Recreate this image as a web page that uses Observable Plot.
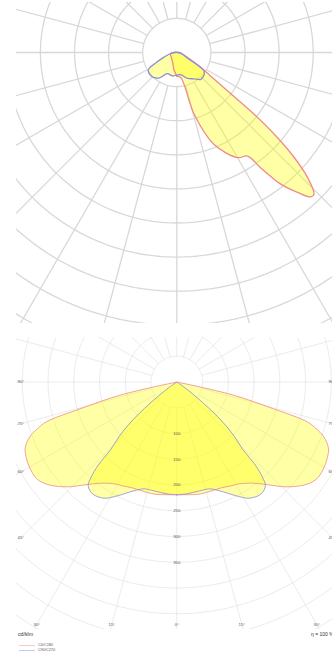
<!DOCTYPE html>
<html><head><meta charset="utf-8">
<script src="https://cdn.jsdelivr.net/npm/d3@7"></script>
<script src="https://cdn.jsdelivr.net/npm/@observablehq/plot@0.6"></script>
<style>
body{margin:0;background:#fff;font-family:Arial,"Liberation Sans",sans-serif;}
#wrap{width:332px;height:654px;position:relative;overflow:hidden;background:#fff;}
#top{position:absolute;left:0;top:0;}
#bot{position:absolute;left:0;top:325px;}
svg{display:block;overflow:hidden}
.t{position:absolute;color:#333;white-space:nowrap;line-height:1;}
.sw{position:absolute;height:1.5px;width:16px;}
</style></head><body>
<div id="wrap"><div id="top"></div><div id="bot"></div>
<div class="t" style="left:18px;top:632px;font-size:5.2px;">cd/klm</div>
<div class="t" style="left:311px;top:632px;font-size:5px;">η = 100 %</div>
<div class="sw" style="left:19px;top:644.5px;background:#ffc4c4;"></div>
<div class="t" style="left:38px;top:643.5px;font-size:3.8px;color:#555;">C0/C180</div>
<div class="sw" style="left:19px;top:649.5px;background:#c8c8ff;"></div>
<div class="t" style="left:38px;top:648.5px;font-size:3.8px;color:#555;">C90/C270</div>
</div>
<script>
// ---------- grid definitions ----------
const spokeAngles = d3.range(0, 360, 15);
const ringValuesTop = [50,100,150,200,250,300,350,400,450,500];
const ringValuesBottom = [50,100,150,200,250,300,350,400,450,500,550,600];
const ringLabels = [100,150,200,250,300,350];
const sideAngleLabels = [90,75,60,45];
const bottomAngleLabels = [30,15,0];

// ---------- top diagram (asymmetric) ----------
const topC0Gamma   = [0, 9, 15.7, 22, 30, 34.4, 36, 38.3, 40.8, 42.9, 44.1, 46.3, 48.2, 49.8, 51.4, 52.9, 55.5, 58.2, 65.7, 80, 90];
const topC0I       = [35, 37, 94, 145, 178, 184, 209, 246, 271, 289, 289, 265, 231, 193, 145, 93, 58, 41, 17, 6, 3];
const topC180Gamma = [0, 10, 20, 45, 78, 90];
const topC180I     = [35, 25, 17, 11, 9.4, 5];
const topC90Gamma  = [0, 9.5, 22.6, 32.9, 42, 50, 53.8, 56.3, 58, 62, 75, 90];
const topC90I      = [33, 33, 41, 46, 53, 52, 50, 47.6, 41, 18, 8, 2];
const topC270Gamma = [0, 10.4, 24.3, 34.3, 43, 50, 56.5, 59.8, 63.7, 70, 79.5, 90];
const topC270I     = [33, 35, 34, 45, 50, 51, 50, 47.5, 34, 20, 10, 3];

// ---------- bottom diagram (symmetric, cd/klm) ----------
const botC0Gamma  = [0, 6, 11, 18, 23, 28, 31, 37, 42, 46, 51, 55, 59, 63.5, 66.5, 69.5, 71.5, 73, 74.5, 77, 90];
const botC0I      = [219, 220, 222, 222, 223, 228, 231, 246, 269, 293, 318, 330, 331, 327, 321, 305, 285, 265, 195, 110, 0];
const botC90Gamma = [0, 5, 12, 17, 21.5, 27.5, 32, 37, 40.5, 42, 43.3, 44.4, 46.5, 48.3, 50, 51.5, 53, 55, 90];
const botC90I     = [219, 218, 216, 217, 227, 249, 266, 272, 265, 248, 224, 183, 155, 128, 97, 64, 38, 18, 0];

// ---------- helpers ----------
const rad = Math.PI / 180;
function pt(I, g, side) { return {x: side * I * Math.sin(g * rad), y: -I * Math.cos(g * rad)}; }
function plane(gR, IR, gL, IL) {
  const a = gR.map((g, i) => pt(IR[i], g, 1));
  const b = gL.map((g, i) => pt(IL[i], g, -1)).reverse();
  const p = a.concat(b);
  p.push(p[0]);
  return p;
}
function rings(vals) {
  const out = [];
  for (const r of vals) for (let a = 0; a <= 360; a += 2) out.push({r, ...pt(r, a, 1)});
  return out;
}
function spokes(r0, r1) {
  return spokeAngles.map(a => ({x1: pt(r0, a, 1).x, y1: pt(r0, a, 1).y, x2: pt(r1, a, 1).x, y2: pt(r1, a, 1).y}));
}

function diagram({width, height, mt, mb, ml, mr, cx, cy, k, ringVals, red, blue, gridColor, gridWidth, curveWidth, extra}) {
  const xd = [(ml - cx) / k, (width - mr - cx) / k];
  const yd = [-(height - mb - cy) / k, (cy - mt) / k];
  const c = "catmull-rom";
  return Plot.plot({
    width, height, marginTop: mt, marginBottom: mb, marginLeft: ml, marginRight: mr,
    x: {domain: xd, axis: null}, y: {domain: yd, axis: null},
    style: {background: "#fff", overflow: "hidden"},
    marks: [
      Plot.line(rings(ringVals), {x: "x", y: "y", z: "r", stroke: gridColor, strokeWidth: gridWidth, clip: true}),
      Plot.link(spokes(50, 900), {x1: "x1", y1: "y1", x2: "x2", y2: "y2", stroke: gridColor, strokeWidth: gridWidth, clip: true}),
      Plot.line(red, {x: "x", y: "y", curve: c, fill: "#ffff00", fillOpacity: 0.35, stroke: "none"}),
      Plot.line(blue, {x: "x", y: "y", curve: c, fill: "#ffff00", fillOpacity: 0.35, stroke: "none"}),
      Plot.line(red, {x: "x", y: "y", curve: c, stroke: "#f08a8a", strokeWidth: curveWidth}),
      Plot.line(blue, {x: "x", y: "y", curve: c, stroke: "#8c8cd8", strokeWidth: curveWidth}),
      ...(extra || [])
    ]
  });
}

// top
const topRed = plane(topC0Gamma, topC0I, topC180Gamma, topC180I);
const topBlue = plane(topC90Gamma, topC90I, topC270Gamma, topC270I);
document.getElementById("top").append(diagram({
  width: 332, height: 325, mt: 2, mb: 2, ml: 16, mr: 0, cx: 176.3, cy: 52, k: 0.682,
  ringVals: ringValuesTop, red: topRed, blue: topBlue, gridColor: "#d8d8d8", gridWidth: 1.3, curveWidth: 1.3
}));

// bottom
const kb = 0.515, cxb = 176.3, cyb = 56.5;
const botRed = plane(botC0Gamma, botC0I, botC0Gamma, botC0I);
const botBlue = plane(botC90Gamma, botC90I, botC90Gamma, botC90I);
const xl = (20.5 - cxb) / kb, xs = (17 - cxb) / kb, xr = (328 - cxb) / kb;
const sideLab = sideAngleLabels.map(a => ({a, y: xl * Math.cos(a * rad) / Math.sin(a * rad)}));
const yb = -(299 - cyb) / kb;
const botLab = [];
for (const a of bottomAngleLabels) {
  botLab.push({a, x: -(-yb) * Math.tan(a * rad)});
  if (a !== 0) botLab.push({a, x: (-yb) * Math.tan(a * rad)});
}
const lab = {fill: "#555", fontSize: 4.3, fontFamily: "Arial, 'Liberation Sans', sans-serif"};
document.getElementById("bot").append(diagram({
  width: 332, height: 305, mt: 12, mb: 1, ml: 16, mr: 0, cx: cxb, cy: cyb, k: kb,
  ringVals: ringValuesBottom, red: botRed, blue: botBlue, gridColor: "#e2e2e2", gridWidth: 0.7, curveWidth: 0.8,
  extra: [
    Plot.text(ringLabels, {x: 0, y: d => -d, text: d => String(d), ...lab}),
    Plot.text(sideLab, {x: xs, y: "y", text: d => d.a + "°", textAnchor: "start", ...lab}),
    Plot.text(sideLab, {x: xr, y: "y", text: d => d.a + "°", textAnchor: "start", ...lab}),
    Plot.text(botLab, {x: "x", y: yb, text: d => d.a + "°", textAnchor: "middle", ...lab})
  ]
}));
</script>
</body></html>
